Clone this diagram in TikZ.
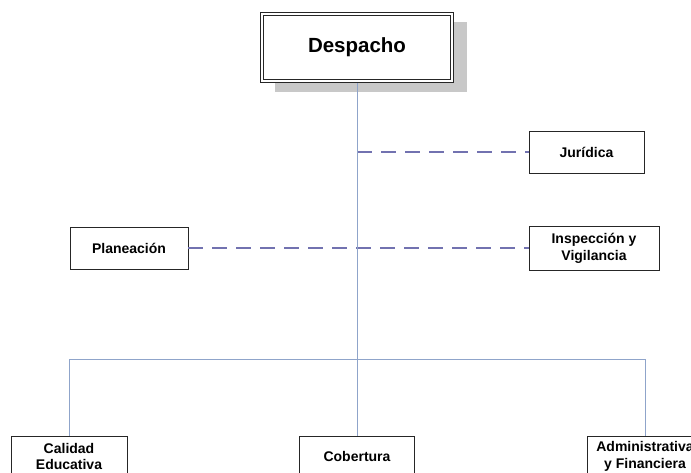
\documentclass[tikz,border=0pt]{standalone}
\usepackage{fontspec}
\setmainfont{Liberation Sans}
\definecolor{lineblue}{HTML}{8FA4CA}
\definecolor{dashblue}{HTML}{7272B0}
\definecolor{shadowgray}{HTML}{C8C8C8}
\begin{document}
\begin{tikzpicture}[x=1pt,y=-1pt,
  unit/.style={draw=black!85, line width=0.8pt, fill=white, inner sep=0pt, align=center,
    font=\fontsize{14}{17}\selectfont\bfseries},
  conn/.style={lineblue, line width=1pt},
  dconn/.style={dashblue, line width=1.1pt, dash pattern=on 15pt off 9pt}]
\useasboundingbox (0,0) rectangle (691,472);
\fill[white] (0,0) rectangle (691,472);
% shadow of Despacho
\fill[shadowgray] (275,22) rectangle (467,92);
% connectors
\coordinate (top) at (357,82);
\coordinate (bar) at (357,359);
\coordinate (barL) at (69,359);
\coordinate (barR) at (645,359);
\node[unit, minimum width=115pt, minimum height=42pt] (jur) at (586.5,152) {Jurídica};
\node[unit, minimum width=118pt, minimum height=42pt] (plan) at (129,248) {Planeación};
\node[unit, minimum width=130pt, minimum height=44pt] (insp) at (594,248) {Inspección y\\Vigilancia};
\coordinate (j) at (357,152);
\coordinate (p) at (357,248);
\draw[dconn] (j) -- (jur.west);
\draw[dconn] (plan.east) -- (p) -- (insp.west);
\draw[conn] (top) -- (bar);
\draw[conn] (barL) -- (barR);
\node[unit, minimum width=116pt, minimum height=40pt, anchor=north,
  font=\fontsize{14}{16.5}\selectfont\bfseries] (cal) at (69,436) {Calidad\\Educativa};
\node[unit, minimum width=115pt, minimum height=40pt, anchor=north] (cob) at (357,436) {Cobertura};
\node[unit, minimum width=116pt, minimum height=40pt, anchor=north,
  font=\fontsize{14}{16.5}\selectfont\bfseries] (adm) at (645,436) {Administrativa\\y Financiera};
\draw[conn] (barL) -- (cal.north);
\draw[conn] (bar) -- (cob.north);
\draw[conn] (barR) -- (adm.north);
% Despacho
\node[draw=black!85, double=white, double distance=2pt, line width=0.8pt, fill=white,
  minimum width=190pt, minimum height=67pt, inner sep=0pt,
  font=\fontsize{20.5}{24}\selectfont\bfseries] (desp) at (357,47.5) {Despacho};
\end{tikzpicture}
\end{document}
